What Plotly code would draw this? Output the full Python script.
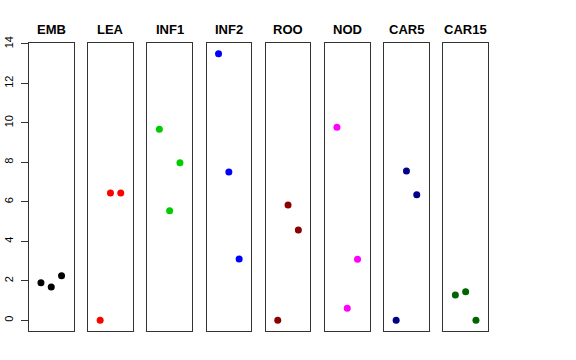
import plotly.graph_objects as go

groups = ["EMB", "LEA", "INF1", "INF2", "ROO", "NOD", "CAR5", "CAR15"]
colors = ["#000000", "#FF0000", "#00CD00", "#0000FF", "#8B0000", "#FF00FF", "#00008B", "#006400"]
x_pos = [1, 2, 3]
values = {
    "EMB": [1.90, 1.69, 2.26],
    "LEA": [0.0, 6.45, 6.45],
    "INF1": [9.67, 5.55, 7.98],
    "INF2": [13.5, 7.51, 3.10],
    "ROO": [0.0, 5.84, 4.57],
    "NOD": [9.77, 0.61, 3.09],
    "CAR5": [0.0, 7.56, 6.36],
    "CAR15": [1.28, 1.45, 0.0],
}
y_ticks = [0, 2, 4, 6, 8, 10, 12, 14]

W, H = 576, 360
left0, pw, step = 29, 44.5, 59.2
top_px, bot_px = 43, 331

fig = go.Figure()
layout = dict(
    width=W, height=H, margin=dict(l=0, r=0, t=0, b=0, autoexpand=False),
    paper_bgcolor="white", plot_bgcolor="white", showlegend=False,
    font=dict(family="Liberation Sans, Arial, sans-serif", color="black"),
)
annotations = []
for i, g in enumerate(groups):
    n = "" if i == 0 else str(i + 1)
    x0 = (left0 + i * step) / W
    x1 = (left0 + i * step + pw) / W
    fig.add_trace(go.Scatter(
        x=x_pos, y=values[g], mode="markers",
        marker=dict(color=colors[i], size=7, line=dict(width=0)),
        xaxis="x" + n, yaxis="y" + n,
    ))
    layout["xaxis" + n] = dict(
        domain=[x0, x1], range=[-0.16, 4.16], anchor="y" + n,
        showgrid=False, zeroline=False, showticklabels=False, ticks="",
        showline=True, mirror=True, linecolor="#333333", linewidth=1,
        automargin=False,
    )
    ydict = dict(
        domain=[(H - bot_px) / H, (H - top_px) / H], range=[-0.54, 14.04],
        anchor="x" + n, showgrid=False, zeroline=False,
        showline=True, mirror=True, linecolor="#333333", linewidth=1,
        automargin=False,
    )
    if i == 0:
        ydict.update(
            tickvals=y_ticks, ticktext=[str(v) for v in y_ticks],
            ticks="outside", ticklen=7, tickcolor="#333333",
            tickangle=-90, tickfont=dict(size=11, color="black"),
            ticklabelstandoff=4,
        )
    else:
        ydict.update(showticklabels=False, ticks="")
    layout["yaxis" + n] = ydict
    annotations.append(dict(
        text="<b>" + g + "</b>", x=(x0 + x1) / 2, y=(H - 29) / H,
        xref="paper", yref="paper", showarrow=False,
        font=dict(size=13, color="black"), xanchor="center", yanchor="middle",
    ))
layout["annotations"] = annotations
fig.update_layout(**layout)
fig.write_html("out.html", config={"displayModeBar": False},
               post_script="document.body.style.margin='0';")
